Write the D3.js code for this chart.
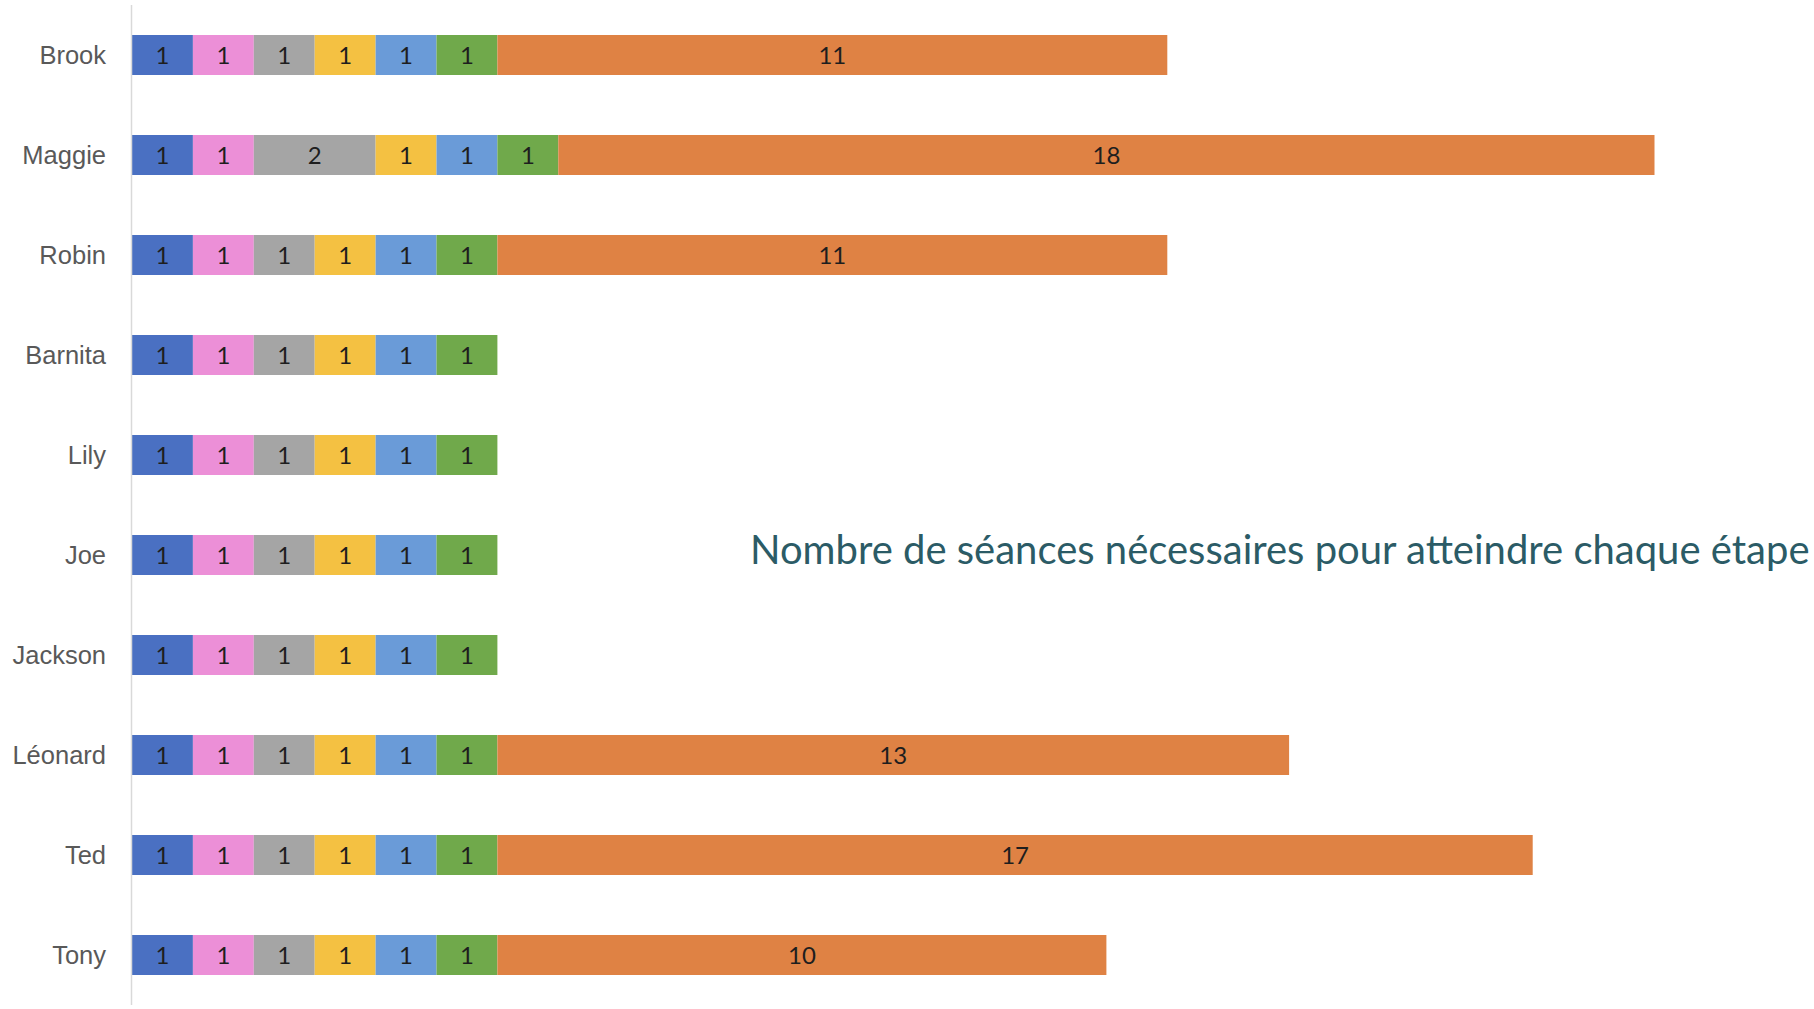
<!doctype html>
<html>
<head>
  <meta charset="utf-8">
  <title>Nombre de séances</title>
  <script src="https://cdnjs.cloudflare.com/ajax/libs/d3/7.8.5/d3.min.js"></script>
  <style>
    body { margin: 0; background: #fff; font-family: 'Lato', sans-serif; }
    .y-axis text { font-size: 25.5px; fill: #595959; }
    .seg-label { font-size: 24px; fill: #1e1e1e; }
    .title { font-size: 40px; fill: #2b5b66; }
  </style>
</head>
<body>
<div id="chart"></div>
<script>
  // names top to bottom
  var people = ["Brook", "Maggie", "Robin", "Barnita", "Lily", "Joe", "Jackson", "Léonard", "Ted", "Tony"];
  var stages = ["Étape 1", "Étape 2", "Étape 3", "Étape 4", "Étape 5", "Étape 6", "Étape 7"];
  var stage1 = [1, 1, 1, 1, 1, 1, 1, 1, 1, 1];
  var stage2 = [1, 1, 1, 1, 1, 1, 1, 1, 1, 1];
  var stage3 = [1, 2, 1, 1, 1, 1, 1, 1, 1, 1];
  var stage4 = [1, 1, 1, 1, 1, 1, 1, 1, 1, 1];
  var stage5 = [1, 1, 1, 1, 1, 1, 1, 1, 1, 1];
  var stage6 = [1, 1, 1, 1, 1, 1, 1, 1, 1, 1];
  var stage7 = [11, 18, 11, 0, 0, 0, 0, 13, 17, 10];
  var colors = ["#4a70c2", "#ec8fd7", "#a5a5a5", "#f4c142", "#6a9bd8", "#70a94b", "#df8244"];
  var title = "Nombre de séances nécessaires pour atteindre chaque étape";

  var width = 1814, height = 1009;
  var margin = { top: 5, right: 20, bottom: 4, left: 132 };

  var series = [stage1, stage2, stage3, stage4, stage5, stage6, stage7];
  var rows = people.map(function (p, i) {
    var o = { name: p };
    stages.forEach(function (s, j) { o[s] = series[j][i]; });
    return o;
  });

  var stacked = d3.stack().keys(stages)(rows);

  var x = d3.scaleLinear().domain([0, 1]).range([margin.left, margin.left + 60.9]);
  var y = d3.scaleBand().domain(people).range([margin.top, height - margin.bottom]).paddingInner(0.6).paddingOuter(0.3);
  var color = d3.scaleOrdinal().domain(stages).range(colors);

  var svg = d3.select("#chart").append("svg").attr("width", width).attr("height", height);

  var groups = svg.append("g").selectAll("g")
    .data(stacked)
    .join("g")
    .attr("fill", function (d) { return color(d.key); });

  groups.selectAll("rect")
    .data(function (d) { return d.filter(function (e) { return e[1] - e[0] > 0; }); })
    .join("rect")
    .attr("x", function (d) { return x(d[0]); })
    .attr("y", function (d) { return y(d.data.name); })
    .attr("width", function (d) { return x(d[1]) - x(d[0]); })
    .attr("height", y.bandwidth());

  groups.selectAll("text")
    .data(function (d) { return d.filter(function (e) { return e[1] - e[0] > 0; }); })
    .join("text")
    .attr("class", "seg-label")
    .attr("x", function (d) { return (x(d[0]) + x(d[1])) / 2; })
    .attr("y", function (d) { return y(d.data.name) + y.bandwidth() / 2; })
    .attr("dy", "0.36em")
    .attr("text-anchor", "middle")
    .text(function (d) { return d[1] - d[0]; });

  // y axis: labels + light vertical line
  var yAxis = svg.append("g")
    .attr("class", "y-axis")
    .attr("transform", "translate(" + margin.left + ",0)")
    .call(d3.axisLeft(y).tickSize(0).tickPadding(26));
  yAxis.select(".domain").remove();
  yAxis.selectAll("text").attr("font-family", null).attr("font-size", null).attr("fill", null).attr("dy", "0.36em");
  svg.append("line")
    .attr("x1", margin.left - 0.5).attr("x2", margin.left - 0.5)
    .attr("y1", margin.top).attr("y2", height - margin.bottom)
    .attr("stroke", "#d9d9d9").attr("stroke-width", 1.5);

  svg.append("text")
    .attr("class", "title")
    .attr("x", 750)
    .attr("y", 550)
    .attr("dy", "0.36em")
    .text(title);
</script>
</body>
</html>
